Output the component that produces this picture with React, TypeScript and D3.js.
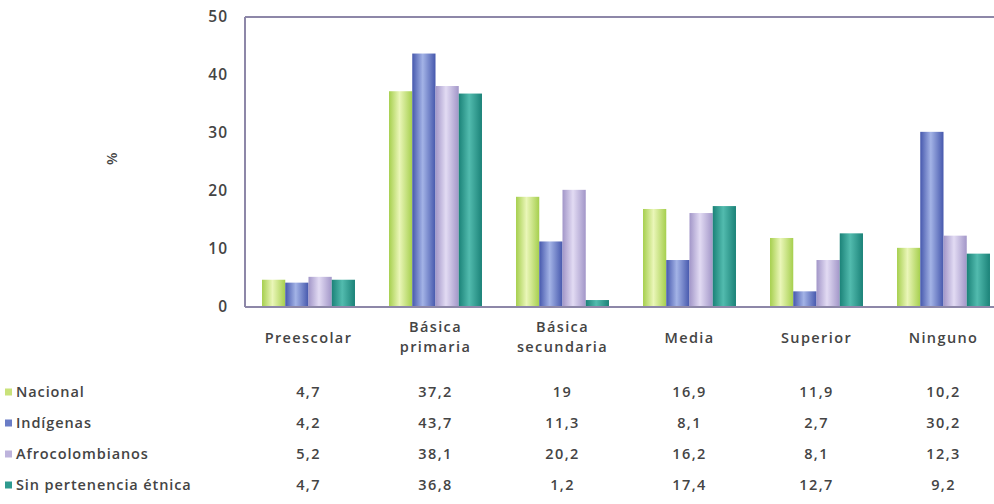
import React from "react";
import * as d3 from "d3";

const categories = [
  ["Preescolar"],
  ["Básica", "primaria"],
  ["Básica", "secundaria"],
  ["Media"],
  ["Superior"],
  ["Ninguno"],
];
const categoryKeys = ["Preescolar", "Básica primaria", "Básica secundaria", "Media", "Superior", "Ninguno"];
const seriesNames = ["Nacional", "Indígenas", "Afrocolombianos", "Sin pertenencia étnica"];
const nacional = [4.7, 37.2, 19, 16.9, 11.9, 10.2];
const indigenas = [4.2, 43.7, 11.3, 8.1, 2.7, 30.2];
const afrocolombianos = [5.2, 38.1, 20.2, 16.2, 8.1, 12.3];
const sinPertenencia = [4.7, 36.8, 1.2, 17.4, 12.7, 9.2];
const tableLabels = [
  ["4,7", "37,2", "19", "16,9", "11,9", "10,2"],
  ["4,2", "43,7", "11,3", "8,1", "2,7", "30,2"],
  ["5,2", "38,1", "20,2", "16,2", "8,1", "12,3"],
  ["4,7", "36,8", "1,2", "17,4", "12,7", "9,2"],
];
const yTicks = [0, 10, 20, 30, 40, 50];

const seriesValues = [nacional, indigenas, afrocolombianos, sinPertenencia];
const colors = [
  { edge: "#a6cf4e", mid: "#eaf6b8", marker: "#c9e27a" },
  { edge: "#4658ad", mid: "#a3b3e6", marker: "#6a7cc6" },
  { edge: "#a296c8", mid: "#e2dbf3", marker: "#bdb3dc" },
  { edge: "#1b8278", mid: "#52bbae", marker: "#2e9a8f" },
];

const W = 994;
const H = 504;
const left = 245;
const top = 17;
const bottom = 307;
const font = "'Open Sans', Lato, sans-serif";
const textColor = "#444444";
const frameColor = "#8d87a8";

export default function App() {
  const x0 = d3
    .scaleBand<string>()
    .domain(categoryKeys)
    .range([left, left + 762])
    .paddingInner(0.268)
    .paddingOuter(0.134);
  const x1 = d3
    .scaleBand<string>()
    .domain(seriesNames)
    .range([0, x0.bandwidth()])
    .padding(0);
  const y = d3.scaleLinear().domain([0, 50]).range([bottom, top]);
  const center = (c: string) => (x0(c) as number) + x0.bandwidth() / 2;
  const rowY = [392, 423, 454, 485];
  const textProps = {
    fontFamily: font,
    fontSize: 14.5,
    fontWeight: 600,
    letterSpacing: 1.4,
    fill: textColor,
  };

  return (
    <svg
      width={W}
      height={H}
      style={{ position: "absolute", left: 0, top: 0, background: "#fff" }}
    >
      <defs>
        {colors.map((c, i) => (
          <linearGradient key={i} id={`g${i}`} x1="0" x2="1" y1="0" y2="0">
            <stop offset="0" stopColor={c.edge} />
            <stop offset="0.45" stopColor={c.mid} />
            <stop offset="1" stopColor={c.edge} />
          </linearGradient>
        ))}
      </defs>
      <rect x={0} y={0} width={W} height={H} fill="#fff" />

      {/* bars */}
      {categoryKeys.map((c, ci) => (
        <g key={c} transform={`translate(${x0(c)},0)`}>
          {seriesNames.map((s, si) => {
            const v = seriesValues[si][ci];
            return (
              <rect
                key={s}
                x={x1(s)}
                y={y(v)}
                width={x1.bandwidth()}
                height={y(0) - y(v)}
                fill={`url(#g${si})`}
              />
            );
          })}
        </g>
      ))}

      {/* frame */}
      <line x1={left} x2={W} y1={top} y2={top} stroke={frameColor} strokeWidth={2} />
      <line x1={left} x2={left} y1={top} y2={bottom} stroke={frameColor} strokeWidth={2} />
      <line x1={left} x2={W} y1={bottom} y2={bottom} stroke={frameColor} strokeWidth={2} />

      {/* y ticks */}
      {yTicks.map((t) => (
        <text
          key={t}
          x={228}
          y={y(t)}
          dy="0.35em"
          textAnchor="end"
          {...textProps}
          fontSize={15.5}
          letterSpacing={1}
        >
          {t}
        </text>
      ))}
      <text
        transform="translate(112,158) rotate(-90)"
        textAnchor="middle"
        dy="0.35em"
        {...textProps}
      >
        %
      </text>

      {/* category labels */}
      {categoryKeys.map((c, ci) => {
        const lines = categories[ci];
        const cx = center(c);
        return lines.length === 1 ? (
          <text key={c} x={cx} y={338} dy="0.35em" textAnchor="middle" {...textProps}>
            {lines[0]}
          </text>
        ) : (
          <g key={c}>
            {lines.map((l, li) => (
              <text
                key={li}
                x={cx}
                y={327 + li * 20}
                dy="0.35em"
                textAnchor="middle"
                {...textProps}
              >
                {l}
              </text>
            ))}
          </g>
        );
      })}

      {/* data table */}
      {seriesNames.map((s, si) => (
        <g key={s}>
          <rect x={5} y={rowY[si] - 3.5} width={7} height={7} fill={colors[si].marker} />
          <text x={16} y={rowY[si]} dy="0.35em" {...textProps} letterSpacing={0.9}>
            {s}
          </text>
          {categoryKeys.map((c, ci) => (
            <text
              key={c}
              x={center(c)}
              y={rowY[si]}
              dy="0.35em"
              textAnchor="middle"
              {...textProps}
            >
              {tableLabels[si][ci]}
            </text>
          ))}
        </g>
      ))}
    </svg>
  );
}
